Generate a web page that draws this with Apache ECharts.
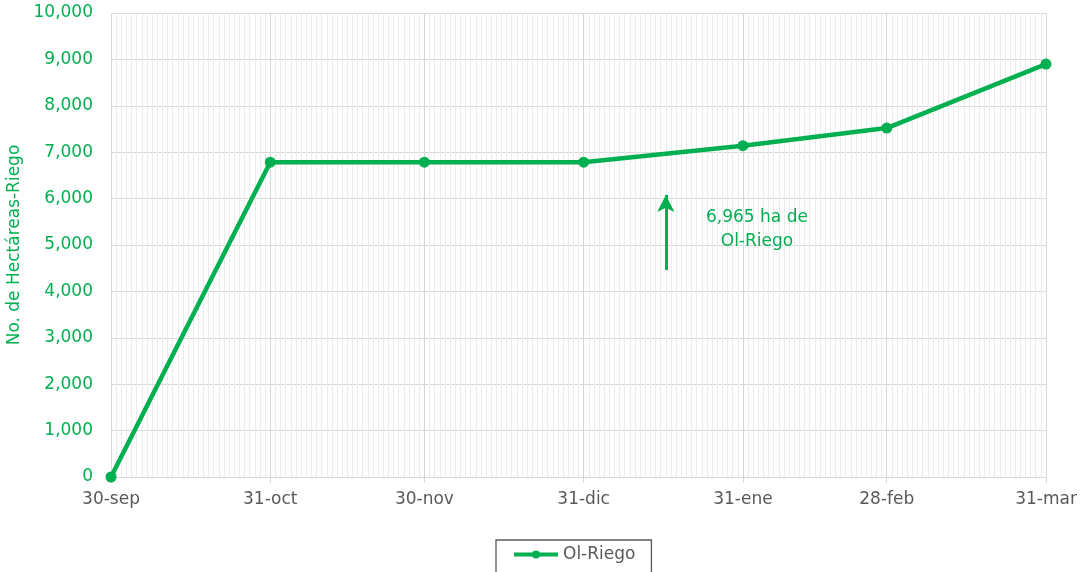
<!DOCTYPE html>
<html>
<head>
<meta charset="utf-8">
<script src="https://cdn.jsdelivr.net/npm/echarts@6/dist/echarts.min.js"></script>
<style>
html,body{margin:0;padding:0;background:#fff;}
#chart{width:1080px;height:572px;}
</style>
</head>
<body>
<div id="chart"></div>
<script>
// fechas de corte y hectáreas acumuladas
var fechas = ['2020-09-30','2020-10-31','2020-11-30','2020-12-31','2021-01-31','2021-02-28','2021-03-31'];
var etiquetas = ['30-sep','31-oct','30-nov','31-dic','31-ene','28-feb','31-mar'];
var valores = [0, 6785, 6785, 6785, 7140, 7520, 8900];
var nota = '6,965 ha de\nOl-Riego';
var flecha = [['2021-01-16', 4460], ['2021-01-16', 6080]];

var verde = '#00b050';
var fuente = 'DejaVu Sans';

function dias(f){
	return (Date.parse(f) - Date.parse(fechas[0])) / 86400000;
}
var offs = fechas.map(dias);
var datos = offs.map(function(d, i){ return [d, valores[i]]; });
var fin = offs[offs.length - 1];

var myChart = echarts.init(document.getElementById('chart'));
var option = {
	backgroundColor: '#fff',
	animation: false,
	grid: {left: 111, right: 34, top: 13, bottom: 95, containLabel: false, outerBoundsMode: 'none'},
	legend: {
		top: 540, left: 496,
		padding: [6, 16, 10, 16],
		borderColor: '#595959', borderWidth: 1.3,
		itemWidth: 44, itemHeight: 10,
		lineStyle: {width: 4},
		textStyle: {color: '#595959', fontSize: 17, fontFamily: fuente},
		data: ['Ol-Riego']
	},
	xAxis: [
		{
			// rejilla diaria
			type: 'value', min: 0, max: fin, interval: 1, position: 'bottom',
			axisLine: {show: false}, axisTick: {show: false}, axisLabel: {show: false},
			splitLine: {show: true, lineStyle: {color: '#ebebeb', width: 1}}
		},
		{
			type: 'value', min: 0, max: fin, position: 'bottom',
			axisLine: {show: true, lineStyle: {color: '#d9d9d9'}},
			axisTick: {show: true, length: 6, customValues: offs, lineStyle: {color: '#d9d9d9'}},
			axisLabel: {
				customValues: offs, margin: 14,
				color: '#595959', fontSize: 17, fontFamily: fuente,
				formatter: function(v){ return etiquetas[offs.indexOf(v)] || ''; }
			},
			splitLine: {show: true, lineStyle: {color: '#d9d9d9', width: 1}}
		}
	],
	yAxis: {
		type: 'value', min: 0, max: 10000, interval: 1000,
		name: 'No. de Hectáreas-Riego', nameLocation: 'middle', nameGap: 85,
		nameTextStyle: {color: verde, fontSize: 17, fontFamily: fuente},
		axisLine: {show: false}, axisTick: {show: false},
		axisLabel: {
			color: verde, fontSize: 17, fontFamily: fuente, margin: 18,
			formatter: function(v){ return v.toLocaleString('en-US'); }
		},
		splitLine: {lineStyle: {color: '#d9d9d9', width: 1}}
	},
	series: [{
		name: 'Ol-Riego', type: 'line', xAxisIndex: 1,
		data: datos,
		symbol: 'circle', symbolSize: 11,
		lineStyle: {color: verde, width: 4.5},
		itemStyle: {color: verde},
		markLine: {
			silent: true, symbol: ['none', 'arrow'], symbolSize: [13, 17],
			label: {show: false},
			lineStyle: {color: verde, width: 3, type: 'solid'},
			data: [[
				{coord: [dias(flecha[0][0]), flecha[0][1]]},
				{coord: [dias(flecha[1][0]), flecha[1][1]]}
			]]
		}
	}],
	graphic: [{
		type: 'text', left: 706, top: 206, z: 100,
		style: {text: nota, fill: verde, stroke: 'none', lineWidth: 0, font: '17px ' + fuente, textAlign: 'center', lineHeight: 24}
	}]
};
myChart.setOption(option);
</script>
</body>
</html>
